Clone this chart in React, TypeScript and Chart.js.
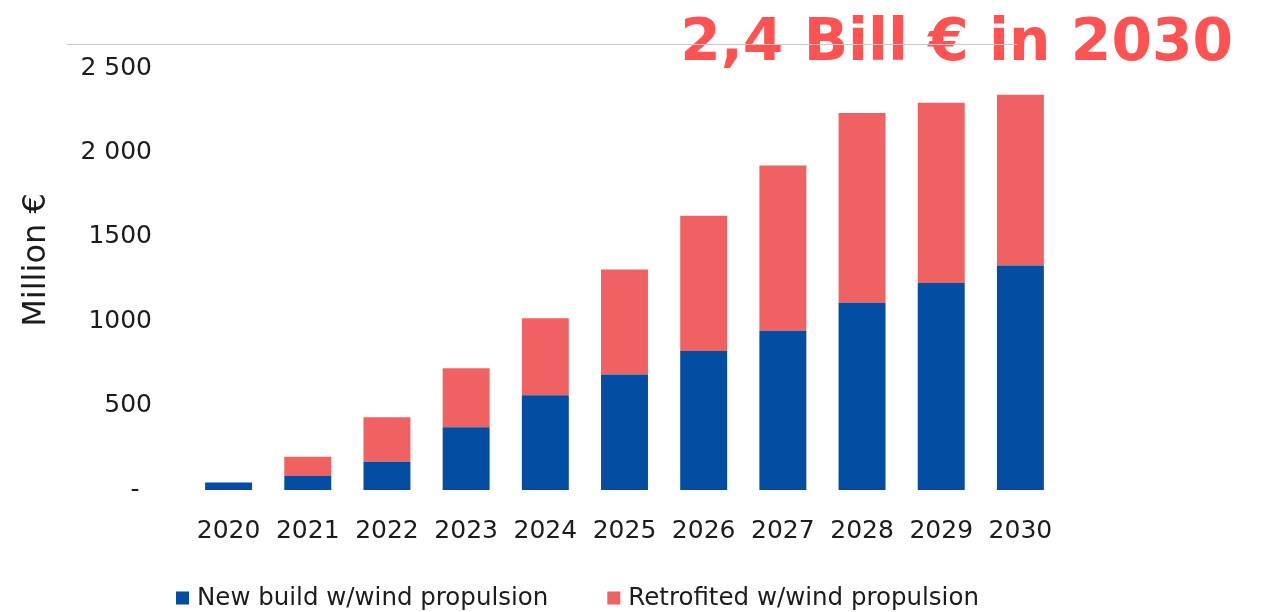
import React, { useEffect, useRef } from "react";
import { Chart, registerables } from "chart.js";

Chart.register(...registerables);

const years = ["2020", "2021", "2022", "2023", "2024", "2025", "2026", "2027", "2028", "2029", "2030"];
const newBuild = [45, 83, 168, 372, 562, 684, 823, 943, 1109, 1226, 1330];
const retrofitted = [0, 114, 263, 350, 456, 623, 802, 979, 1125, 1068, 1011];
const yTickValues = [0, 500, 1000, 1500, 2000, 2500];
const yTickLabels = ["-\u2002", "500", "1000", "1500", "2 000", "2 500"];
const seriesNames = ["New build w/wind propulsion", "Retrofited w/wind propulsion"];
const headline = "2,4 Bill € in 2030";
const yAxisTitle = "Million €";

const BLUE = "#034EA2";
const RED = "#F06262";
const TITLE_RED = "#FF5252";
const TEXT = "#1c1c1c";
const FONT = "'DejaVu Sans', sans-serif";

const decorPlugin = {
  id: "decor",
  afterDraw(chart: any) {
    const ctx: CanvasRenderingContext2D = chart.ctx;
    ctx.save();

    // headline, fitted to width
    let size = 58;
    ctx.font = `bold ${size}px ${FONT}`;
    const w = ctx.measureText(headline).width;
    size = size * (553 / w);
    ctx.font = `bold ${size}px ${FONT}`;
    ctx.fillStyle = TITLE_RED;
    ctx.textAlign = "right";
    ctx.textBaseline = "alphabetic";
    ctx.fillText(headline, 1225, 52);

    // thin grey rule
    ctx.strokeStyle = "#c8c8c8";
    ctx.lineWidth = 1;
    ctx.beginPath();
    ctx.moveTo(59, 36.5);
    ctx.lineTo(1009, 36.5);
    ctx.stroke();

    // y axis title
    ctx.save();
    ctx.translate(37, 252);
    ctx.rotate(-Math.PI / 2);
    ctx.font = `32px ${FONT}`;
    ctx.fillStyle = TEXT;
    ctx.textAlign = "center";
    ctx.textBaseline = "alphabetic";
    ctx.fillText(yAxisTitle, 0, 0);
    ctx.restore();

    // legend
    const ds = chart.data.datasets;
    ctx.font = `24.5px ${FONT}`;
    ctx.textAlign = "left";
    ctx.textBaseline = "middle";
    let x = 168;
    const cy = 590;
    ds.forEach((d: any) => {
      ctx.fillStyle = d.backgroundColor;
      ctx.fillRect(x, cy - 6.5, 13, 13);
      ctx.fillStyle = TEXT;
      const label = d.label;
      ctx.fillText(label, x + 21, cy + 1);
      x = x + 21 + ctx.measureText(label).width + 59;
    });

    ctx.restore();
  },
};

export default function App() {
  const ref = useRef<HTMLCanvasElement>(null);

  useEffect(() => {
    if (!ref.current) return;
    const chart = new Chart(ref.current, {
      type: "bar",
      data: {
        labels: years,
        datasets: [
          {
            label: seriesNames[0],
            data: newBuild,
            backgroundColor: BLUE,
            borderWidth: 0,
            categoryPercentage: 1,
            barPercentage: 0.593,
          },
          {
            label: seriesNames[1],
            data: retrofitted,
            backgroundColor: RED,
            borderWidth: 0,
            categoryPercentage: 1,
            barPercentage: 0.593,
          },
        ],
      },
      options: {
        animation: false,
        responsive: true,
        maintainAspectRatio: false,
        layout: { padding: { top: 60, bottom: 66, left: 0, right: 195 } },
        plugins: {
          legend: { display: false },
          title: { display: false },
          tooltip: { enabled: false },
        },
        scales: {
          x: {
            stacked: true,
            grid: { display: false, drawTicks: false },
            border: { display: false },
            afterFit: (scale: any) => {
              scale.height = 56;
            },
            ticks: {
              color: TEXT,
              font: { family: FONT, size: 25 },
              padding: 26,
              maxRotation: 0,
              autoSkip: false,
            },
          },
          y: {
            stacked: true,
            min: 0,
            max: 2500,
            grid: { display: false, drawTicks: false },
            border: { display: false },
            afterFit: (scale: any) => {
              scale.width = 181;
            },
            ticks: {
              stepSize: 500,
              color: TEXT,
              font: { family: FONT, size: 25 },
              padding: 37,
              callback: (v: any) => {
                const i = yTickValues.indexOf(Number(v));
                return i >= 0 ? yTickLabels[i] : "";
              },
            },
          },
        },
      },
      plugins: [decorPlugin],
    });
    return () => chart.destroy();
  }, []);

  return (
    <div style={{ position: "relative", width: 1247, height: 604 }}>
      <canvas ref={ref} />
    </div>
  );
}
